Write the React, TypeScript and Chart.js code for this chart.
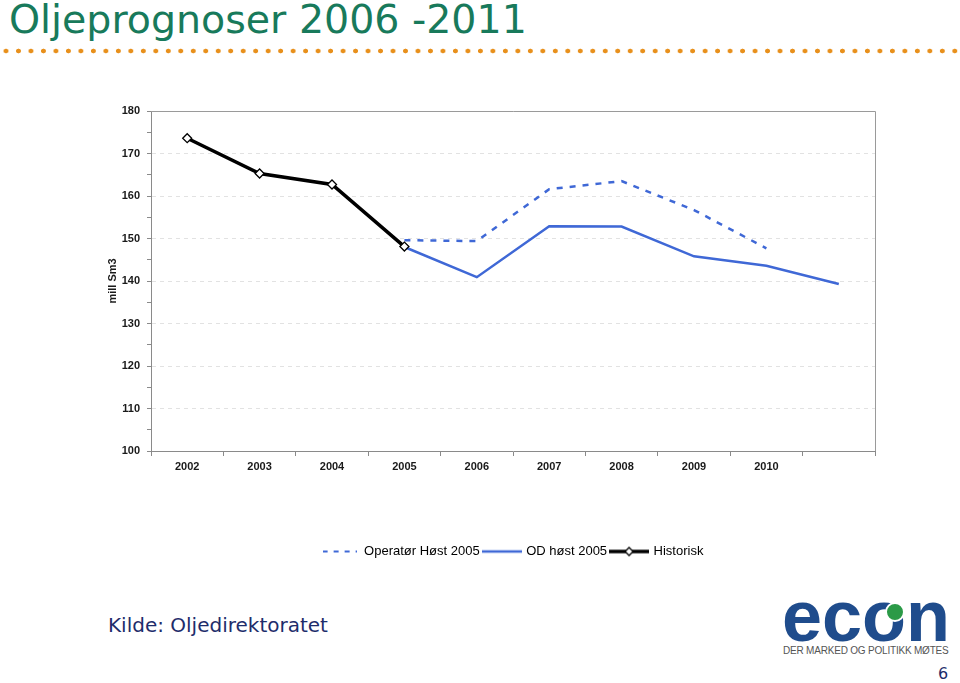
import React, { useEffect, useRef } from "react";
import { Chart, registerables } from "chart.js";

Chart.register(...registerables);

const categories = ["2002", "2003", "2004", "2005", "2006", "2007", "2008", "2009", "2010", ""];
const operatorHost2005 = [null, null, null, 149.6, 149.4, 161.6, 163.5, 156.7, 147.7, null];
const odHost2005 = [null, null, null, 148.0, 140.9, 152.9, 152.8, 145.8, 143.6, 139.3];
const historisk = [173.6, 165.3, 162.7, 148.1, null, null, null, null, null, null];
const seriesNames = ["Operatør Høst 2005", "OD høst 2005", "Historisk"];
const yMin = 100;
const yMax = 180;

const BLUE = "#3f68d6";

function makeIcon(kind: number): HTMLCanvasElement {
  const c = document.createElement("canvas");
  const w = kind === 0 ? 34 : 40;
  c.width = w;
  c.height = 12;
  const g = c.getContext("2d")!;
  g.beginPath();
  g.moveTo(0, 6);
  g.lineTo(w, 6);
  if (kind === 0) {
    g.strokeStyle = BLUE;
    g.lineWidth = 2;
    g.setLineDash([5, 6]);
  } else if (kind === 1) {
    g.strokeStyle = BLUE;
    g.lineWidth = 2.5;
  } else {
    g.strokeStyle = "#000";
    g.lineWidth = 3.5;
  }
  g.stroke();
  if (kind === 2) {
    g.setLineDash([]);
    g.beginPath();
    g.moveTo(w / 2, 2);
    g.lineTo(w / 2 + 4, 6);
    g.lineTo(w / 2, 10);
    g.lineTo(w / 2 - 4, 6);
    g.closePath();
    g.fillStyle = "#fff";
    g.fill();
    g.lineWidth = 1.3;
    g.strokeStyle = "#000";
    g.stroke();
  }
  return c;
}

function OilChart() {
  const ref = useRef<HTMLCanvasElement | null>(null);
  useEffect(() => {
    if (!ref.current) return;
    const icons = [makeIcon(0), makeIcon(1), makeIcon(2)];
    const frame = {
      id: "frame",
      afterDatasetsDraw(chart: any) {
        const { ctx, chartArea } = chart;
        ctx.save();
        ctx.strokeStyle = "#9a9a9a";
        ctx.lineWidth = 1;
        ctx.beginPath();
        ctx.moveTo(chartArea.left, chartArea.top + 0.5);
        ctx.lineTo(chartArea.right + 0.5, chartArea.top + 0.5);
        ctx.lineTo(chartArea.right + 0.5, chartArea.bottom);
        ctx.stroke();
        ctx.restore();
      },
    };
    const chart = new Chart(ref.current, {
      type: "line",
      data: {
        labels: categories,
        datasets: [
          {
            label: seriesNames[0],
            data: operatorHost2005,
            borderColor: BLUE,
            borderWidth: 2.5,
            borderDash: [6, 7],
            pointRadius: 0,
            tension: 0,
            order: 2,
          },
          {
            label: seriesNames[1],
            data: odHost2005,
            borderColor: BLUE,
            borderWidth: 2.5,
            pointRadius: 0,
            tension: 0,
            order: 1,
          },
          {
            label: seriesNames[2],
            data: historisk,
            borderColor: "#000",
            borderWidth: 3.5,
            pointStyle: "rectRot",
            pointRadius: 4.5,
            pointBackgroundColor: "#fff",
            pointBorderColor: "#000",
            pointBorderWidth: 1.3,
            tension: 0,
            order: 0,
          },
        ],
      },
      options: {
        animation: false,
        responsive: true,
        maintainAspectRatio: false,
        layout: { padding: { top: 20, left: 0, right: 0, bottom: 0 } },
        plugins: {
          tooltip: { enabled: false },
          legend: {
            position: "bottom",
            labels: {
              usePointStyle: true,
              pointStyleWidth: 36,
              padding: 4,
              color: "#000",
              font: { family: "Arial, 'Liberation Sans', sans-serif", size: 13 },
              sort: (a: any, b: any) => a.datasetIndex - b.datasetIndex,
              generateLabels: (ch: any) =>
                Chart.defaults.plugins.legend.labels
                  .generateLabels(ch)
                  .map((l: any) => ({ ...l, pointStyle: icons[l.datasetIndex] })),
            },
          },
        },
        scales: {
          x: {
            type: "category",
            offset: true,
            grid: {
              offset: true,
              drawOnChartArea: false,
              tickLength: 5,
              color: "#8a8a8a",
              tickColor: "#8a8a8a",
            },
            border: { color: "#8a8a8a" },
            ticks: {
              autoSkip: false,
              maxRotation: 0,
              padding: 4,
              color: "#1a1a1a",
              font: { family: "Arial, 'Liberation Sans', sans-serif", size: 11, weight: "bold" },
            },
            afterFit: (s: any) => {
              s.height = 90;
            },
          },
          y: {
            type: "linear",
            min: yMin,
            max: yMax,
            title: {
              display: true,
              text: "mill Sm3",
              color: "#1a1a1a",
              font: { family: "Arial, 'Liberation Sans', sans-serif", size: 11, weight: "bold" },
              padding: { top: 41, bottom: 0 },
            },
            grid: {
              tickLength: 4,
              color: (c: any) =>
                c.tick && c.tick.value % 10 === 0 && c.tick.value > yMin && c.tick.value < yMax
                  ? "#e2e2e2"
                  : "rgba(0,0,0,0)",
              tickColor: "#8a8a8a",
            },
            border: { color: "#8a8a8a", dash: [4, 4] },
            ticks: {
              stepSize: 5,
              autoSkip: false,
              padding: 7,
              color: "#1a1a1a",
              font: { family: "Arial, 'Liberation Sans', sans-serif", size: 11, weight: "bold" },
              callback: (v: any) => (Number(v) % 10 === 0 ? String(v) : ""),
            },
            afterFit: (s: any) => {
              s.width = 86;
            },
          },
          y2: {
            type: "linear",
            position: "right",
            display: true,
            grid: { display: false },
            border: { display: false },
            ticks: { display: false },
            afterFit: (s: any) => {
              s.width = 85;
            },
          },
        },
      },
      plugins: [frame],
    } as any);
    return () => chart.destroy();
  }, []);
  return <canvas ref={ref} />;
}

export default function App() {
  return (
    <div
      style={{
        position: "absolute",
        left: 0,
        top: 0,
        width: 960,
        height: 683,
        background: "#fff",
        overflow: "hidden",
        fontFamily: "'DejaVu Sans', Verdana, sans-serif",
      }}
    >
      <div
        style={{
          position: "absolute",
          left: 9,
          top: 0,
          fontSize: 39.5,
          lineHeight: "39px",
          color: "#187a5b",
          whiteSpace: "nowrap",
        }}
      >
        Oljeprognoser 2006 -2011
      </div>
      <div
        style={{
          position: "absolute",
          left: 0,
          top: 48,
          width: 962,
          height: 6,
          backgroundImage: "radial-gradient(circle, #e8901c 2.1px, rgba(232,144,28,0) 2.7px)",
          backgroundSize: "12.49px 6px",
          backgroundPosition: "-0.25px 0",
          backgroundRepeat: "repeat-x",
        }}
      />
      <div style={{ position: "absolute", left: 65, top: 91, width: 895, height: 477 }}>
        <OilChart />
      </div>
      <div
        style={{
          position: "absolute",
          left: 108,
          top: 613,
          fontSize: 20,
          lineHeight: "24px",
          color: "#1e2d6b",
          whiteSpace: "nowrap",
        }}
      >
        Kilde: Oljedirektoratet
      </div>
      <div
        style={{
          position: "absolute",
          left: 782,
          top: 580,
          fontFamily: "Arial, 'Liberation Sans', sans-serif",
          fontWeight: "bold",
          fontSize: 72,
          lineHeight: "72px",
          letterSpacing: 0,
          color: "#1f4c8c",
          whiteSpace: "nowrap",
        }}
      >
        econ
      </div>
      <div
        style={{
          position: "absolute",
          left: 885,
          top: 602,
          width: 16,
          height: 16,
          borderRadius: "50%",
          background: "#2b9a47",
          border: "2px solid #fff",
        }}
      />
      <div
        style={{
          position: "absolute",
          left: 783,
          top: 645,
          fontFamily: "Arial, 'Liberation Sans', sans-serif",
          fontSize: 10,
          lineHeight: "12px",
          color: "#555",
          whiteSpace: "nowrap",
          letterSpacing: -0.2,
        }}
      >
        DER MARKED OG POLITIKK MØTES
      </div>
      <div
        style={{
          position: "absolute",
          left: 938,
          top: 665,
          fontSize: 16,
          lineHeight: "18px",
          color: "#1e2d6b",
        }}
      >
        6
      </div>
    </div>
  );
}
